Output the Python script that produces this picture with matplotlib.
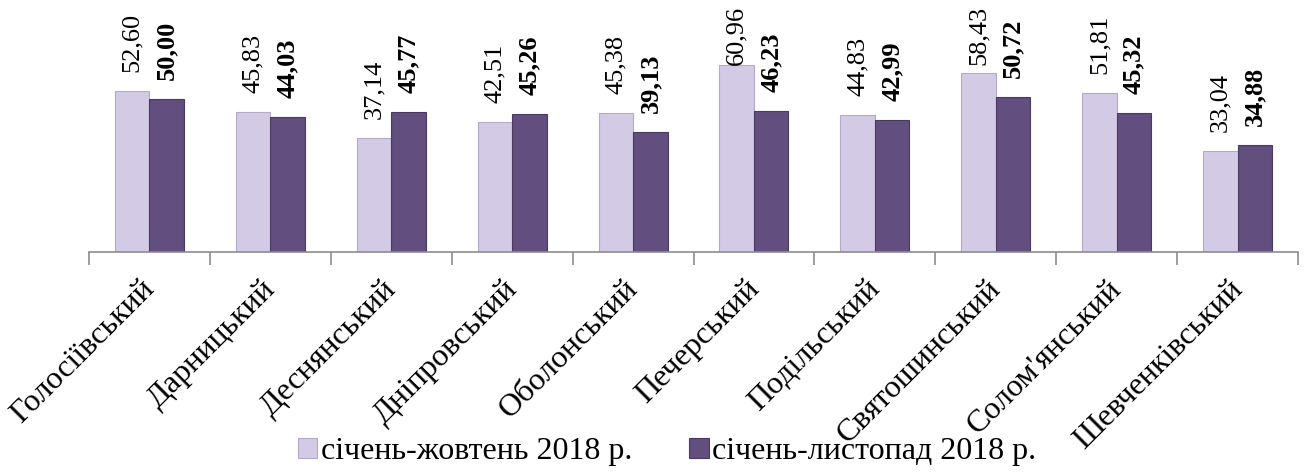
import matplotlib
matplotlib.use("Agg")
import matplotlib.pyplot as plt
import numpy as np

categories = ["Голосіївський", "Дарницький", "Деснянський", "Дніпровський",
              "Оболонський", "Печерський", "Подільський", "Святошинський",
              "Солом'янський", "Шевченківський"]
series1_name = "січень-жовтень 2018 р."
series2_name = "січень-листопад 2018 р."
series1 = [52.60, 45.83, 37.14, 42.51, 45.38, 60.96, 44.83, 58.43, 51.81, 33.04]
series2 = [50.00, 44.03, 45.77, 45.26, 39.13, 46.23, 42.99, 50.72, 45.32, 34.88]

plt.rcParams['font.family'] = ['Liberation Serif', 'DejaVu Serif']

W, H = 1306, 472
fig = plt.figure(figsize=(W / 100, H / 100), dpi=100)
ax_left, ax_right = 89, 1298
ax_bottom_px = 252
ymax = 70
px_per_unit = 3.06
ax_top_px = ax_bottom_px - ymax * px_per_unit
ax = fig.add_axes([ax_left / W, 1 - ax_bottom_px / H,
                   (ax_right - ax_left) / W, (ax_bottom_px - ax_top_px) / H])

light = "#D3CBE5"
dark = "#634E80"
x = np.arange(len(categories))
bw = 0.285
b1 = ax.bar(x - bw / 2, series1, bw, color=light, edgecolor="#B3A9C9", linewidth=0.8, zorder=2)
b2 = ax.bar(x + bw / 2, series2, bw, color=dark, edgecolor="#4A3A60", linewidth=0.8, zorder=2)

ax.set_xlim(-0.5, len(categories) - 0.5)
ax.set_ylim(0, ymax)

for s in ["top", "right", "left"]:
    ax.spines[s].set_visible(False)
ax.spines["bottom"].set_color("#8C8C8C")
ax.spines["bottom"].set_linewidth(1.2)
ax.set_yticks([])
ax.set_xticks(np.arange(len(categories) + 1) - 0.5)
ax.set_xticklabels([])
ax.tick_params(axis="x", length=9, color="#8C8C8C", width=1.2, direction="out")

fs_val = 19
fs_cat = 23
fs_leg = 23
# value labels
off = 19 / px_per_unit
label_len = 59 / px_per_unit
top_limit = (ax_bottom_px - 6) / px_per_unit
for xi, v in zip(x - bw / 2, series1):
    yb = min(v + off, top_limit - label_len)
    ax.text(xi, yb, f"{v:.2f}".replace(".", ","), rotation=90, ha="center", va="bottom",
            fontsize=fs_val, clip_on=False)
for xi, v in zip(x + bw / 2, series2):
    yb = min(v + off, top_limit - label_len)
    ax.text(xi, yb, f"{v:.2f}".replace(".", ","), rotation=90, ha="center", va="bottom",
            fontsize=fs_val, fontweight="bold", clip_on=False)

# category labels (baseline end anchored just right of category centre)
for xi, c in zip(x, categories):
    ax.annotate(c, (xi, 0), xytext=(6, -38), textcoords="offset pixels",
                rotation=45, ha="right", va="baseline", rotation_mode="anchor",
                fontsize=fs_cat, annotation_clip=False)

leg = fig.legend([b1, b2], [series1_name, series2_name], loc="center",
                 bbox_to_anchor=(667 / W, 1 - 452 / H), ncol=2, frameon=False,
                 fontsize=fs_leg, handlelength=0.6, handleheight=0.6, handletextpad=0.1,
                 columnspacing=1.8, borderpad=0)

fig.savefig("out.png", dpi=100)
